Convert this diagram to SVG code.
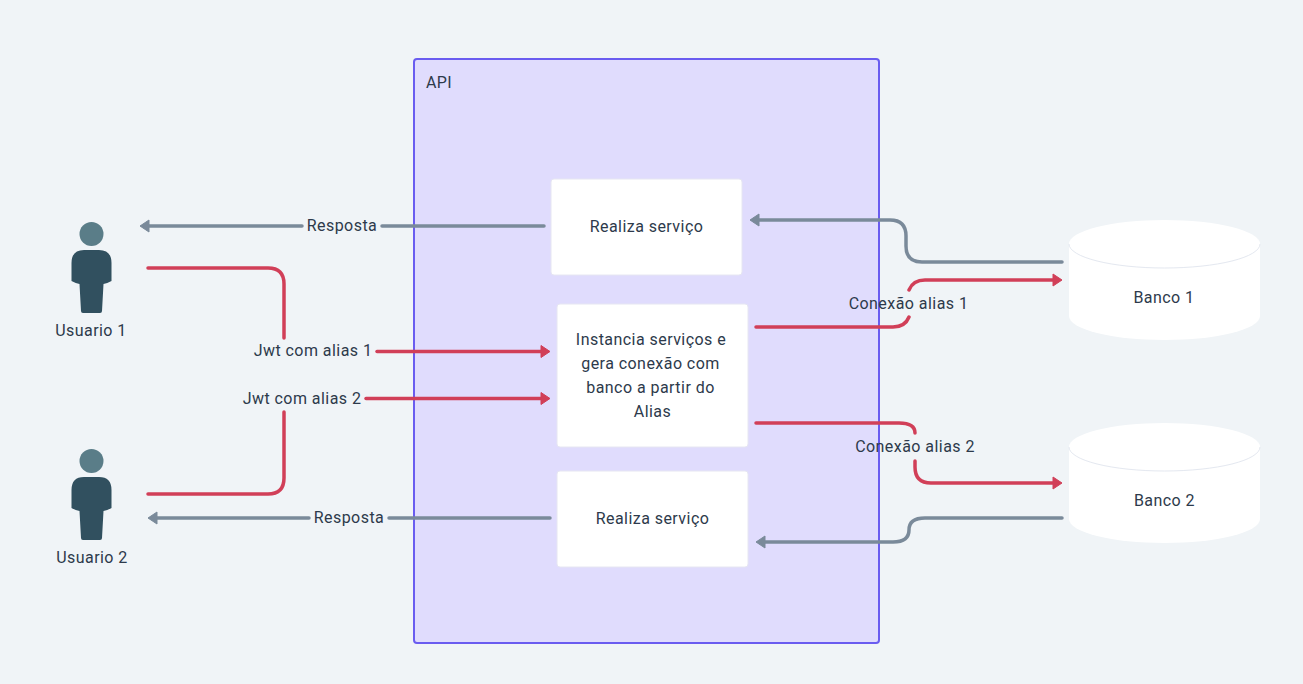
<svg xmlns="http://www.w3.org/2000/svg" width="1303" height="684" viewBox="0 0 1303 684">
<style>
text{font-family:"Roboto","Noto Sans",sans-serif;font-size:16px;letter-spacing:.45px;fill:#2d3a4b;text-anchor:middle}
.n{fill:#fff;stroke:#e6e6f2;stroke-width:1}
.r{fill:none;stroke:#d13f58;stroke-width:3.5;stroke-linecap:round}
.g{fill:none;stroke:#7a8a9a;stroke-width:3.500;stroke-linecap:round}
.h{fill:#5a7d88}.b{fill:#31505f}
.bg{fill:#f0f4f7}
</style>
<defs>
<marker id="ar" markerUnits="userSpaceOnUse" markerWidth="14" markerHeight="16" refX="6" refY="8" orient="auto"><path d="M1 2L10 8L1 14z" fill="#d13f58" stroke="#d13f58" stroke-linejoin="round"/></marker>
<marker id="ag" markerUnits="userSpaceOnUse" markerWidth="14" markerHeight="16" refX="6" refY="8" orient="auto"><path d="M1 2L10 8L1 14z" fill="#7a8a9a" stroke="#7a8a9a" stroke-linejoin="round"/></marker>
</defs>
<rect width="1303" height="684" class="bg"/>
<g id="api"><rect x="414" y="59" width="465" height="584" rx="3" fill="#e0dcfd" stroke="#6a5cf0" stroke-width="2"/><text x="439" y="88">API</text></g>
<g id="servico1"><rect class="n" x="551" y="179" width="191" height="96" rx="3"/><text x="646.500" y="232">Realiza serviço</text></g>
<g id="instancia"><rect class="n" x="557" y="304" width="191" height="143" rx="3"/><text x="651" y="345">Instancia serviços e</text><text x="650.500" y="369">gera conexão com</text><text x="650.500" y="393">banco a partir do</text><text x="652.500" y="417">Alias</text></g>
<g id="servico2"><rect class="n" x="557" y="471" width="191" height="96" rx="3"/><text x="652.500" y="524">Realiza serviço</text></g>
<g id="usuario1"><circle class="h" cx="91.500" cy="234" r="12"/><path class="b" d="M84 250H99Q111.500 250 111.500 263V281Q107 283.500 103.500 284L102 311Q102 313 100 313H83Q81 313 81 311L79.500 284Q76 283.500 71.500 281V263Q71.500 250 84 250z"/><text x="91" y="336">Usuario 1</text></g>
<g id="usuario2"><circle class="h" cx="91.500" cy="461" r="12"/><path class="b" d="M84 477H99Q111.500 477 111.500 490V508Q107 510.500 103.500 511L102 538Q102 540 100 540H83Q81 540 81 538L79.500 511Q76 510.500 71.500 508V490Q71.500 477 84 477z"/><text x="92" y="563">Usuario 2</text></g>
<g id="banco1"><path d="M1069 244A95.500 24 0 0 1 1260 244V316A95.500 24 0 0 1 1069 316z" fill="#fff"/><path d="M1069 244A95.500 24 0 0 0 1260 244" fill="none" stroke="#e4e8f0"/><text x="1164" y="303">Banco 1</text></g>
<g id="banco2"><path d="M1069 447A95.500 24 0 0 1 1260 447V519A95.500 24 0 0 1 1069 519z" fill="#fff"/><path d="M1069 447A95.500 24 0 0 0 1260 447" fill="none" stroke="#e4e8f0"/><text x="1164.500" y="506">Banco 2</text></g>
<g id="connectors">
<path class="g" d="M302 226H144" marker-end="url(#ag)"/>
<path class="g" d="M544 226H382"/>
<path class="g" d="M1062 262H922Q906 262 906 246V236Q906 220 890 220H754" marker-end="url(#ag)"/>
<path class="r" d="M148 268H268Q284 268 284 284V338"/>
<path class="r" d="M377 351.500H546" marker-end="url(#ar)"/>
<path class="r" d="M148 494H268Q284 494 284 478V412"/>
<path class="r" d="M366 398.500H546" marker-end="url(#ar)"/>
<path class="r" d="M756 327H893Q905 327 909 317"/>
<path class="r" d="M909 290Q913 280 925 280H1058" marker-end="url(#ar)"/>
<path class="r" d="M756 423H899Q915 423 915 433"/>
<path class="r" d="M915 461V467Q915 483 931 483H1058" marker-end="url(#ar)"/>
<path class="g" d="M309 518H152" marker-end="url(#ag)"/>
<path class="g" d="M550 518H389"/>
<path class="g" d="M1062 518H925Q909 518 909 530Q909 542 893 542H760" marker-end="url(#ag)"/>
<text x="342" y="231">Resposta</text>
<text x="313" y="356">Jwt com alias 1</text>
<text x="302" y="404">Jwt com alias 2</text>
<text x="349" y="523">Resposta</text>
<text x="908.500" y="309">Conexão alias 1</text>
<text x="915" y="452">Conexão alias 2</text>
</g>
</svg>
